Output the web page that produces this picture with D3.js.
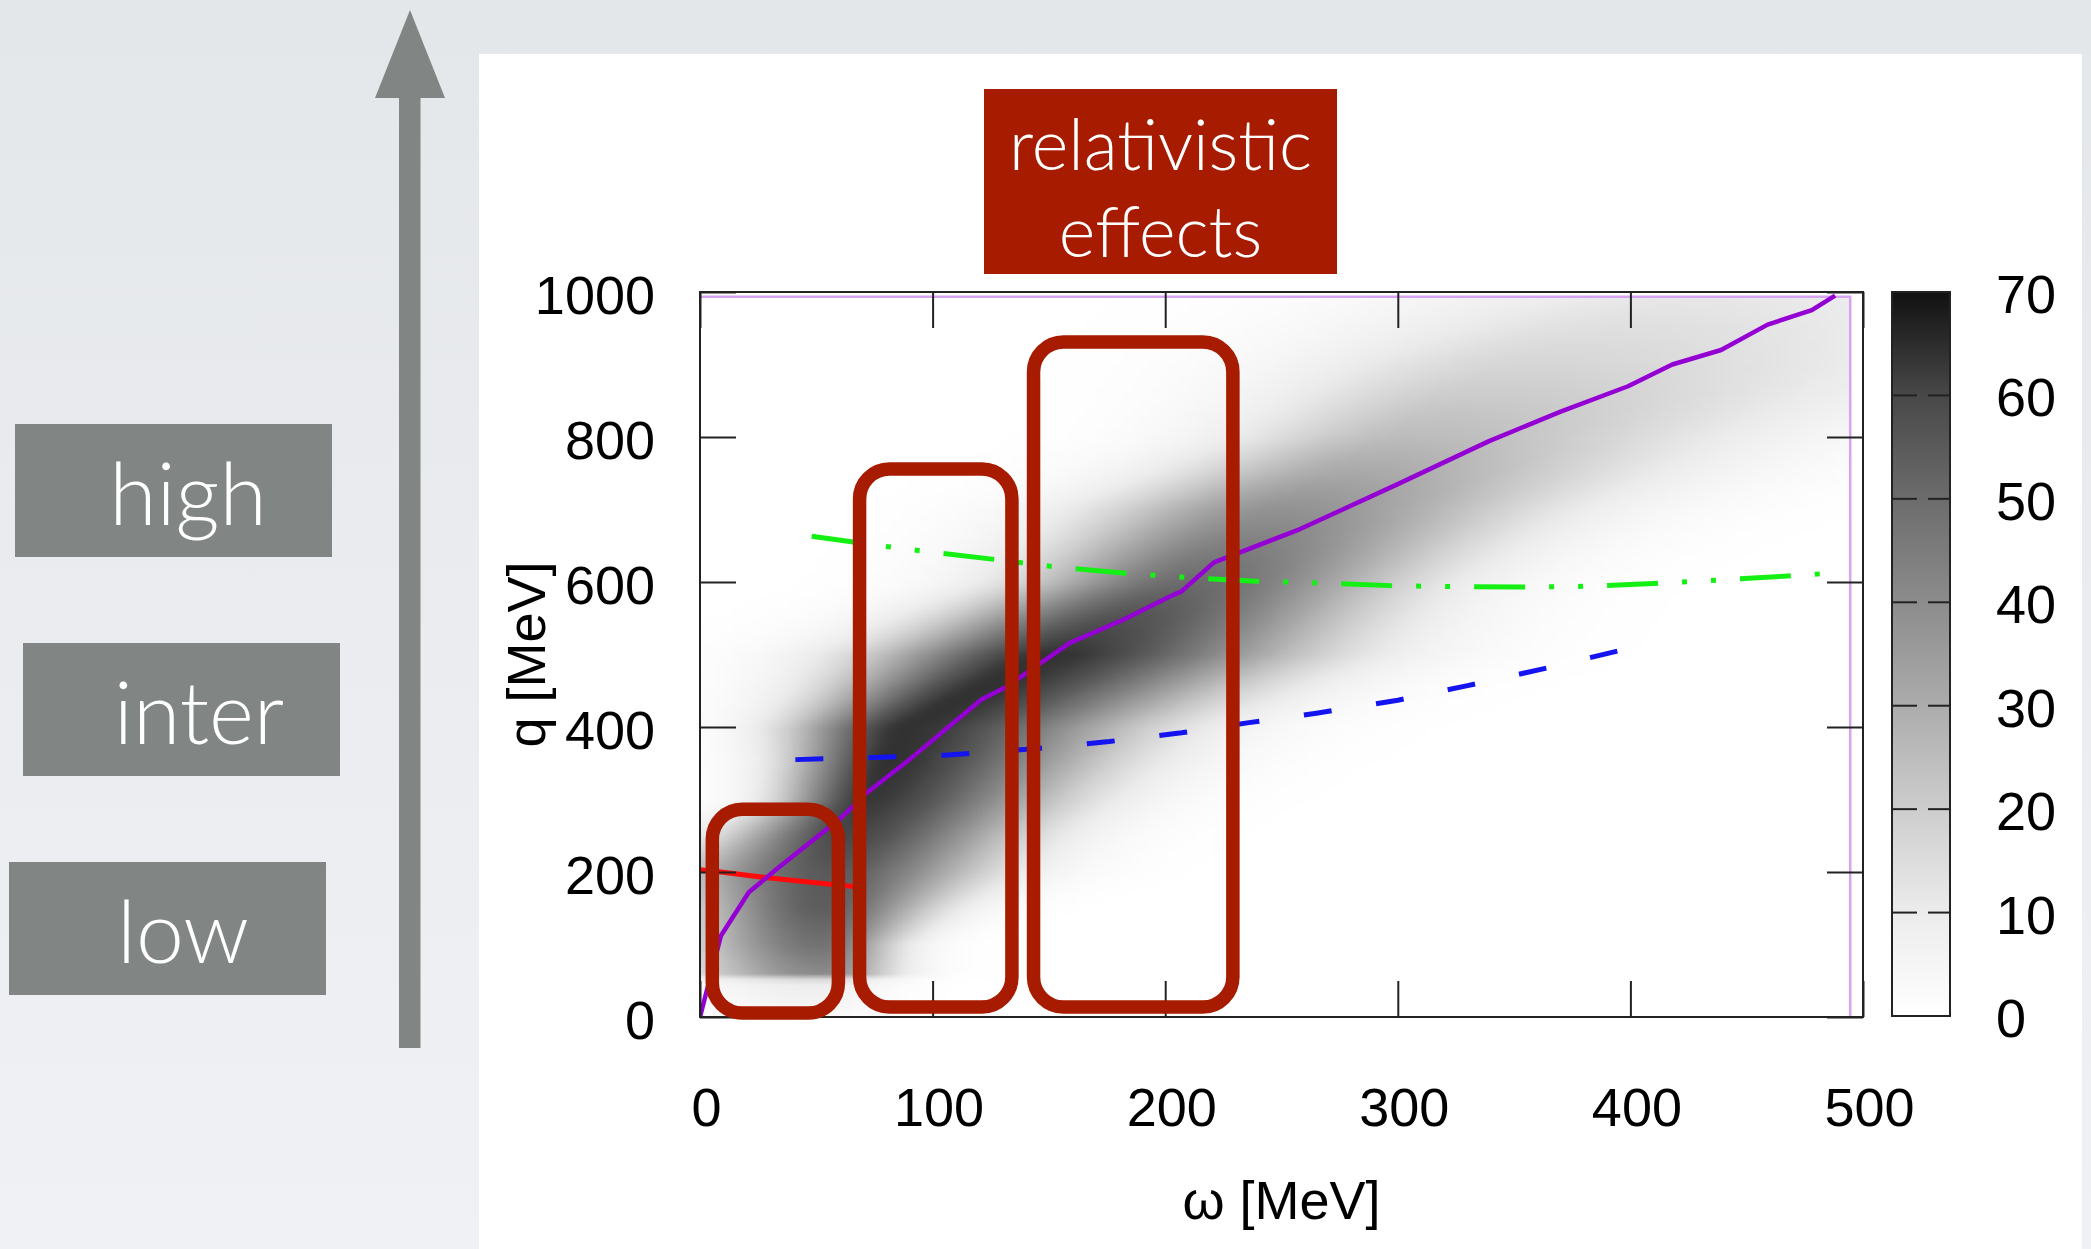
<!DOCTYPE html>
<html>
<head>
<meta charset="utf-8">
<script src="https://cdn.jsdelivr.net/npm/d3@7"></script>
<style>
  html, body { margin: 0; padding: 0; }
  body { width: 2091px; height: 1249px; overflow: hidden; }
  svg { display: block; }
</style>
</head>
<body>
<svg id="chart" width="2091" height="1249"></svg>
<script>
// ---- axis ticks ----
const omegaTicks = [0, 100, 200, 300, 400, 500];
const qTicks = [0, 200, 400, 600, 800, 1000];
const zTicks = [0, 10, 20, 30, 40, 50, 60, 70];
// gray level of the density palette at each z tick
const paletteGray = [255, 236, 205, 172, 140, 108, 72, 17];

// ---- density ridge, one row per q value ----
const ridgeQ      = [0, 50, 60, 100, 150, 200, 250, 300, 350, 400, 450, 500, 550, 600, 650, 700, 750, 800, 850, 900, 950, 1000];
const ridgeCenter = [45, 50, 52, 52, 52, 55, 63, 72, 80, 88, 118, 150, 180, 210, 230, 250, 278, 305, 330, 355, 392, 430];
const ridgePeak   = [3, 10, 40, 48, 54, 55, 60, 63, 64, 64, 64, 64, 57, 50, 44, 38, 31, 25, 21, 17, 14, 11];
const ridgeSigLo  = [30, 35, 38, 38, 37, 44, 34, 25, 28, 33, 42, 52, 52, 50, 54, 57, 56, 55, 62, 70, 80, 90];
const ridgeSigHi  = [20, 22, 22, 22, 33, 46, 50, 56, 62, 68, 72, 75, 70, 65, 70, 78, 88, 98, 115, 135, 130, 120];
// extent of the density map
const mapOmegaMax = 494.5;
const mapQMax = 993.5;

// ---- curves (omega, q) ----
const purpleCurve = [[0,0],[9,112],[21,172],[33,204],[60,273],[72,310],[90,355],[121,438],[132,456],[159,516],[182,548],[202,580],[207,587],[221,627],[258,673],[300,735],[339,794],[370,835],[399,870],[418,900],[439,920],[459,955],[478,975],[488,995]];
const blueCurve   = [[41,355],[75,358],[105,361],[144,370],[176,380],[207,392],[236,406],[265,419],[300,437],[330,457],[365,482],[400,509]];
const greenCurve  = [[48,663],[75,651],[100,641],[127,631],[155,620],[183,612],[210,606],[239,601],[263,599],[297,595],[325,593.5],[353,593],[380,594],[410,598],[440,603],[466,608],[490,613]];
const redCurve    = [[0,203],[9,200],[29,192],[56,183],[66,180]];

// ---- highlighted regions (omega from/to, q from/to) ----
const regionOmegaLo = [5.3, 68.6, 143.4];
const regionOmegaHi = [59.5, 134.1, 229.1];
const regionQLo = [5.5, 13.8, 13.8];
const regionQHi = [286.5, 756, 931];

// ---- side labels ----
const regimeLabels = ["high", "inter", "low"];
const titleLines = ["relativistic", "effects"];

const svg = d3.select("#chart");
const defs = svg.append("defs");

// page background
const bg = defs.append("linearGradient").attr("id", "bg").attr("x1", 0).attr("y1", 0).attr("x2", 0).attr("y2", 1);
bg.append("stop").attr("offset", "0%").attr("stop-color", "#e4e7ea");
bg.append("stop").attr("offset", "100%").attr("stop-color", "#f0f1f4");
svg.append("rect").attr("width", 2091).attr("height", 1249).attr("fill", "url(#bg)");

// white figure panel
svg.append("rect").attr("x", 479).attr("y", 54).attr("width", 1603).attr("height", 1200).attr("fill", "#ffffff");

// ---- arrow and regime labels ----
const slateGray = "#818684";
svg.append("rect").attr("x", 399).attr("y", 96).attr("width", 21.5).attr("height", 952).attr("fill", slateGray);
svg.append("path").attr("d", "M375,98 L445,98 L410,10 Z").attr("fill", slateGray);

const regimeBoxes = [
  {x: 15, y: 424, w: 317, h: 133, tx: 188, ty: 525},
  {x: 23, y: 643, w: 317, h: 133, tx: 199, ty: 744},
  {x: 9,  y: 862, w: 317, h: 133, tx: 183, ty: 963}
];
regimeLabels.forEach((lab, i) => {
  const b = regimeBoxes[i];
  svg.append("rect").attr("x", b.x).attr("y", b.y).attr("width", b.w).attr("height", b.h).attr("fill", slateGray);
  svg.append("text").attr("x", b.tx).attr("y", b.ty).attr("text-anchor", "middle")
    .attr("font-family", "Lato, 'Open Sans', sans-serif").attr("font-weight", 300)
    .attr("font-size", 86).attr("fill", "#ffffff").text(lab);
});

// ---- scales ----
const x = d3.scaleLinear().domain([0, 500]).range([700, 1863]);
const y = d3.scaleLinear().domain([0, 1000]).range([1017, 292]);
const z = d3.scaleLinear().domain([0, 70]).range([1016, 292]);
const gray = d3.scaleLinear().domain(zTicks).range(paletteGray).clamp(true);

const cen = d3.scaleLinear().domain(ridgeQ).range(ridgeCenter).clamp(true);
const pk  = d3.scaleLinear().domain(ridgeQ).range(ridgePeak).clamp(true);
const sLo = d3.scaleLinear().domain(ridgeQ).range(ridgeSigLo).clamp(true);
const sHi = d3.scaleLinear().domain(ridgeQ).range(ridgeSigHi).clamp(true);

// ---- density map rendered into an image ----
const NX = 124, NY = 124;
const canvas = document.createElement("canvas");
canvas.width = NX; canvas.height = NY;
const ctx = canvas.getContext("2d");
const img = ctx.createImageData(NX, NY);
for (let j = 0; j < NY; j++) {
  const q = mapQMax - (j + 0.5) * mapQMax / NY;
  const c = cen(q), p = pk(q), lo = sLo(q), hi = sHi(q);
  for (let i = 0; i < NX; i++) {
    const w = (i + 0.5) * mapOmegaMax / NX;
    const s = w < c ? lo : hi;
    const v = p * Math.exp(-((w - c) * (w - c)) / (2 * s * s));
    const g = Math.round(gray(v));
    const k = (j * NX + i) * 4;
    img.data[k] = g; img.data[k + 1] = g; img.data[k + 2] = g; img.data[k + 3] = 255;
  }
}
ctx.putImageData(img, 0, 0);

defs.append("clipPath").attr("id", "plotClip").append("rect")
  .attr("x", x(0)).attr("y", y(1000)).attr("width", x(500) - x(0)).attr("height", y(0) - y(1000));

const plot = svg.append("g").attr("clip-path", "url(#plotClip)");
plot.append("image")
  .attr("href", canvas.toDataURL())
  .attr("x", x(0)).attr("y", y(mapQMax))
  .attr("width", x(mapOmegaMax) - x(0)).attr("height", y(0) - y(mapQMax))
  .attr("preserveAspectRatio", "none")
  .style("image-rendering", "auto");

// light outline of the map area
plot.append("path")
  .attr("d", d3.line().x(d => x(d[0])).y(d => y(d[1]))([[0, mapQMax], [mapOmegaMax, mapQMax], [mapOmegaMax, 0]]))
  .attr("fill", "none").attr("stroke", "#d6a4f0").attr("stroke-width", 2.5);

// ---- curves ----
const line = d3.line().x(d => x(d[0])).y(d => y(d[1]));
plot.append("path").attr("d", line(greenCurve)).attr("fill", "none")
  .attr("stroke", "#14f014").attr("stroke-width", 5).attr("stroke-dasharray", "51,24,5,24,5,24");
plot.append("path").attr("d", line(blueCurve)).attr("fill", "none")
  .attr("stroke", "#1414f0").attr("stroke-width", 5).attr("stroke-dasharray", "28,45");
plot.append("path").attr("d", line(redCurve)).attr("fill", "none")
  .attr("stroke", "#ff0a0a").attr("stroke-width", 5);
plot.append("path").attr("d", line(purpleCurve)).attr("fill", "none")
  .attr("stroke", "#9400d3").attr("stroke-width", 4.5).attr("stroke-linejoin", "round");

// ---- frame and axes ----
const labelFont = "'Liberation Sans', Arial, Helvetica, sans-serif";
svg.append("rect").attr("x", x(0)).attr("y", y(1000)).attr("width", x(500) - x(0)).attr("height", y(0) - y(1000))
  .attr("fill", "none").attr("stroke", "#222").attr("stroke-width", 2);

function styleAxis(g) {
  g.select(".domain").remove();
  g.selectAll(".tick line").attr("stroke", "#222").attr("stroke-width", 2);
  g.selectAll(".tick text").attr("font-family", labelFont).attr("font-size", 54).attr("fill", "#000");
}
const plain = d3.format("d");

svg.append("g").attr("transform", `translate(0,${y(0)})`)
  .call(d3.axisBottom(x).tickValues(omegaTicks).tickFormat(plain).tickSizeInner(-36).tickSizeOuter(0).tickPadding(71))
  .call(styleAxis)
  .call(g => g.selectAll(".tick text").attr("dx", 6));
svg.append("g").attr("transform", `translate(0,${y(1000)})`)
  .call(d3.axisTop(x).tickValues(omegaTicks).tickSizeInner(-36).tickSizeOuter(0).tickFormat(""))
  .call(styleAxis);
svg.append("g").attr("transform", `translate(${x(0)},0)`)
  .call(d3.axisLeft(y).tickValues(qTicks).tickFormat(plain).tickSizeInner(-36).tickSizeOuter(0).tickPadding(45))
  .call(styleAxis)
  .call(g => g.selectAll(".tick text").attr("dy", "0.4em"));
svg.append("g").attr("transform", `translate(${x(500)},0)`)
  .call(d3.axisRight(y).tickValues(qTicks).tickSizeInner(-36).tickSizeOuter(0).tickFormat(""))
  .call(styleAxis);

// axis titles
svg.append("text").attr("transform", `translate(545,${(y(0) + y(1000)) / 2}) rotate(-90)`)
  .attr("text-anchor", "middle").attr("font-family", labelFont).attr("font-size", 54).text("q [MeV]");
svg.append("text").attr("x", (x(0) + x(500)) / 2).attr("y", 1219)
  .attr("text-anchor", "middle").attr("font-family", labelFont).attr("font-size", 54).text("ω [MeV]");

// ---- colour box ----
const cbX0 = 1892, cbX1 = 1950;
const cbGrad = defs.append("linearGradient").attr("id", "cbGrad")
  .attr("gradientUnits", "userSpaceOnUse").attr("x1", 0).attr("x2", 0).attr("y1", z(0)).attr("y2", z(70));
zTicks.forEach(v => {
  const g = Math.round(gray(v));
  cbGrad.append("stop").attr("offset", v / 70).attr("stop-color", `rgb(${g},${g},${g})`);
});
svg.append("rect").attr("x", cbX0).attr("y", z(70)).attr("width", cbX1 - cbX0).attr("height", z(0) - z(70))
  .attr("fill", "url(#cbGrad)").attr("stroke", "#222").attr("stroke-width", 2);
const cb = svg.append("g");
cb.selectAll("line.l").data(zTicks.slice(1, -1)).join("line")
  .attr("x1", cbX0).attr("x2", cbX0 + 25).attr("y1", d => z(d)).attr("y2", d => z(d))
  .attr("stroke", "#222").attr("stroke-width", 2);
cb.selectAll("line.r").data(zTicks.slice(1, -1)).join("line")
  .attr("x1", cbX1 - 22).attr("x2", cbX1).attr("y1", d => z(d)).attr("y2", d => z(d))
  .attr("stroke", "#222").attr("stroke-width", 2);
cb.selectAll("text").data(zTicks).join("text")
  .attr("x", 1996).attr("y", d => z(d) + 21)
  .attr("font-family", labelFont).attr("font-size", 54).text(d => d);

// ---- highlighted regions ----
const regionColor = "#a71b00";
svg.append("g").selectAll("rect").data(regionOmegaLo).join("rect")
  .attr("x", (d, i) => x(regionOmegaLo[i]))
  .attr("y", (d, i) => y(regionQHi[i]))
  .attr("width", (d, i) => x(regionOmegaHi[i]) - x(regionOmegaLo[i]))
  .attr("height", (d, i) => y(regionQLo[i]) - y(regionQHi[i]))
  .attr("rx", 30).attr("ry", 30)
  .attr("fill", "none").attr("stroke", regionColor).attr("stroke-width", 13.5);

// ---- title box ----
svg.append("rect").attr("x", 984).attr("y", 89).attr("width", 353).attr("height", 185).attr("fill", regionColor);
svg.append("g").selectAll("text").data(titleLines).join("text")
  .attr("x", 1160.5).attr("y", (d, i) => 170 + i * 87)
  .attr("text-anchor", "middle")
  .attr("font-family", "Lato, 'Open Sans', sans-serif").attr("font-weight", 300)
  .attr("font-size", 70).attr("fill", "#ffffff").text(d => d);
</script>
</body>
</html>
